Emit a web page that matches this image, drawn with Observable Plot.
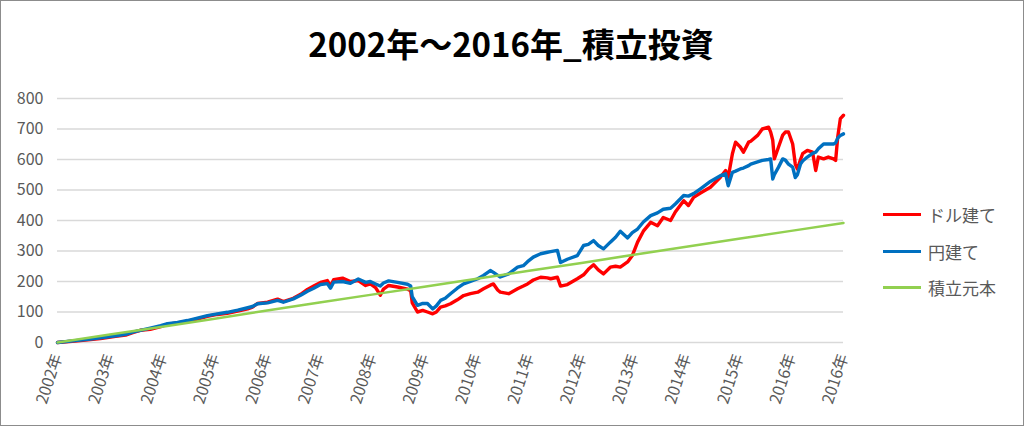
<!DOCTYPE html>
<html>
<head>
<meta charset="utf-8">
<script src="https://cdn.jsdelivr.net/npm/d3@7"></script>
<script src="https://cdn.jsdelivr.net/npm/@observablehq/plot@0.6"></script>
<style>
  html, body { margin: 0; padding: 0; background: #fff; }
  #frame { position: relative; width: 1022px; height: 424px; border: 1px solid #8c8c8c; background: #fff; overflow: hidden;
           font-family: "Noto Sans CJK JP", "Noto Sans", sans-serif; }
  #title { position: absolute; left: 0; width: 1020px; top: 21px; text-align: center; font-size: 33px; font-weight: bold; color: #000; line-height: 42px; }
  #chart { position: absolute; left: 0; top: 0; }
  .leg { position: absolute; left: 882px; height: 24px; display: flex; align-items: center; font-size: 17px; color: #595959; }
  .leg .sw { width: 38px; height: 3px; margin-right: 7px; }
</style>
</head>
<body>
<div id="frame">
  <div id="chart"></div>
  <div id="title"></div>
  <div id="legend"></div>
</div>
<script>
// ---- data (x = position along the time axis, in axis-label steps from 2002) ----
const titleText = "2002年～2016年_積立投資";
const seriesNames = ["ドル建て", "円建て", "積立元本"];
const seriesColors = ["#FF0000", "#0070C0", "#92D050"];

const xTickLabels = ["2002年","2003年","2004年","2005年","2006年","2007年","2008年","2009年",
  "2010年","2011年","2012年","2013年","2014年","2015年","2016年","2016年"];
const yTicks = [0,100,200,300,400,500,600,700,800];

const t = [0,0.34,0.63,0.82,1.11,1.30,1.45,1.58,1.77,1.97,2.10,2.29,2.48,2.67,2.86,3.05,3.24,3.44,3.63,3.72,
  3.82,4.01,4.20,4.31,4.50,4.64,4.77,4.89,5.02,5.15,5.21,5.27,5.44,5.59,5.74,5.88,5.97,6.07,6.16,6.22,
  6.32,6.49,6.68,6.74,6.77,6.87,6.97,7.06,7.16,7.23,7.31,7.40,7.50,7.63,7.75,7.88,8.02,8.13,8.26,8.32,
  8.40,8.45,8.61,8.78,8.89,8.97,9.08,9.22,9.35,9.41,9.54,
  9.60,9.73,9.92,10.04,10.13,10.23,10.32,10.42,10.55,10.65,10.74,10.88,10.97,11.07,11.18,11.32,11.45,11.56,11.70,11.79,
  11.95,12.04,12.14,12.27,12.46,12.65,12.75,12.80,12.88,12.94,13.03,13.09,13.19,13.23,13.36,13.45,13.57,13.61,13.65,13.68,
  13.76,13.84,13.89,13.95,14.03,14.08,14.12,14.18,14.22,14.31,14.41,14.47,14.52,14.62,14.71,14.81,14.85,14.89,14.94,15.00];

const yen = [0,6,11,15,22,27,35,40,47,55,62,66,72,80,88,94,99,106,114,118,
  127,130,138,132,143,155,168,178,190,193,178,198,200,194,208,197,200,192,185,195,
  202,197,191,185,150,122,128,128,110,120,138,145,160,178,192,200,209,220,236,230,
  220,215,225,247,252,265,280,291,296,298,302,
  262,273,285,318,322,334,318,307,329,345,365,343,360,372,395,416,425,437,440,454,
  482,480,488,504,528,547,553,514,558,562,569,572,580,585,592,597,600,602,536,550,
  575,602,598,585,575,541,550,585,595,608,620,624,635,651,651,651,655,670,679,684];

const dollar = [0,5,10,13,20,24,33,40,43,52,60,64,70,77,86,92,96,103,110,116,
  128,132,142,134,145,158,174,185,197,203,185,206,211,200,203,187,192,180,155,175,
  187,182,175,170,130,100,105,100,94,100,116,120,127,140,154,160,165,176,188,192,
  172,165,160,176,185,192,205,214,212,209,214,
  185,190,209,222,240,255,238,225,247,250,247,264,285,329,365,394,383,410,400,428,
  465,449,476,490,509,542,564,542,619,657,641,624,657,660,679,700,706,690,663,602,
  641,680,690,690,651,585,569,600,619,630,624,564,608,602,608,602,597,674,734,745];

const principalT = [0,1,2,3,4,5,6,7,8,9,10,11,12,13,14,15];
const principal = [0,26,52,78,105,131,157,183,209,235,261,288,314,340,366,392];

// ---- build tables ----
const dollarRows = t.map((x, i) => ({x, y: dollar[i]}));
const yenRows = t.map((x, i) => ({x, y: yen[i]}));
const principalRows = principalT.map((x, i) => ({x, y: principal[i]}));

const font = "'Noto Sans CJK JP', 'Noto Sans', sans-serif";
const chart = Plot.plot({
  width: 1022,
  height: 424,
  marginLeft: 56,
  marginRight: 180,
  marginTop: 97,
  marginBottom: 83,
  style: {fontFamily: font, background: "transparent", overflow: "visible"},
  x: {domain: [0, 15], ticks: d3.range(0, 16), tickFormat: i => xTickLabels[i], label: null},
  y: {domain: [0, 800], ticks: yTicks, label: null},
  marks: [
    Plot.gridY(yTicks, {stroke: "#d9d9d9", strokeOpacity: 1, strokeWidth: 1.3}),
    Plot.axisY(yTicks, {tickSize: 0, tickPadding: 14, fontSize: 16, fill: "#595959", label: null}),
    Plot.axisX(d3.range(0, 16), {tickSize: 0, tickPadding: 12, tickRotate: -72, fontSize: 16, fill: "#595959",
      tickFormat: i => xTickLabels[i], label: null}),
    Plot.line(dollarRows, {x: "x", y: "y", stroke: seriesColors[0], strokeWidth: 3.4, strokeLinejoin: "round"}),
    Plot.line(yenRows, {x: "x", y: "y", stroke: seriesColors[1], strokeWidth: 3.4, strokeLinejoin: "round"}),
    Plot.line(principalRows, {x: "x", y: "y", stroke: seriesColors[2], strokeWidth: 2.5})
  ]
});
document.getElementById("chart").appendChild(chart);
document.getElementById("title").textContent = titleText;

const legend = document.getElementById("legend");
const legendY = [201, 238, 274];
seriesNames.forEach((name, i) => {
  const item = document.createElement("div");
  item.className = "leg";
  item.style.top = legendY[i] + "px";
  const sw = document.createElement("div");
  sw.className = "sw";
  sw.style.background = seriesColors[i];
  const label = document.createElement("span");
  label.textContent = name;
  item.appendChild(sw);
  item.appendChild(label);
  legend.appendChild(item);
});
</script>
</body>
</html>
